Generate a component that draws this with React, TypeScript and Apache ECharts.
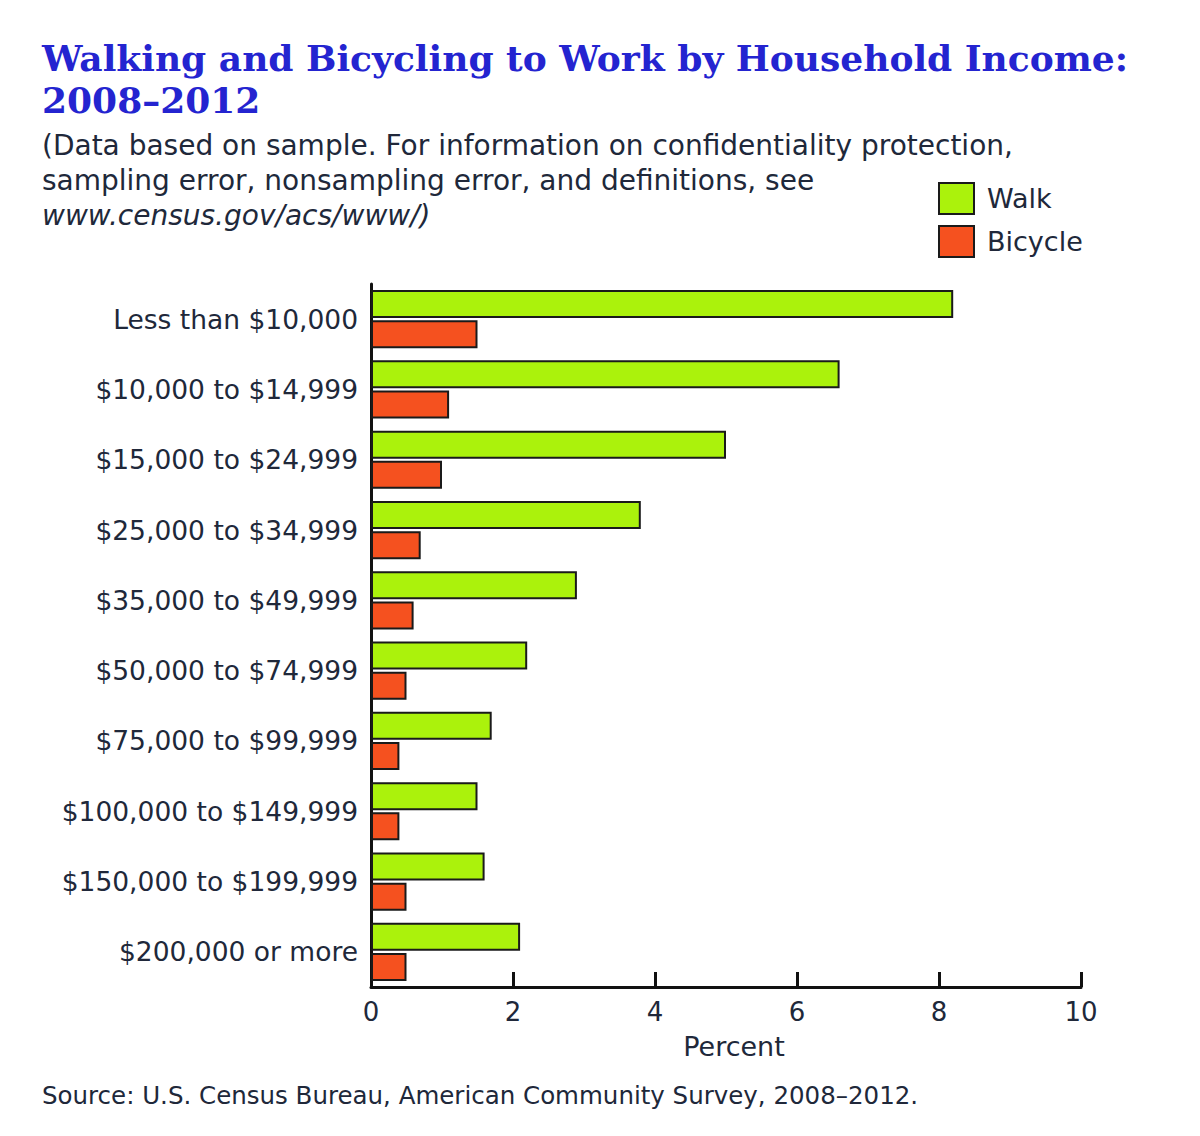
import React, { useEffect, useRef } from "react";
import * as echarts from "echarts";

const categories = [
  "Less than $10,000",
  "$10,000 to $14,999",
  "$15,000 to $24,999",
  "$25,000 to $34,999",
  "$35,000 to $49,999",
  "$50,000 to $74,999",
  "$75,000 to $99,999",
  "$100,000 to $149,999",
  "$150,000 to $199,999",
  "$200,000 or more",
];
const walkValues = [8.2, 6.6, 5.0, 3.8, 2.9, 2.2, 1.7, 1.5, 1.6, 2.1];
const bicycleValues = [1.5, 1.1, 1.0, 0.7, 0.6, 0.5, 0.4, 0.4, 0.5, 0.5];
const xTicks = [0, 2, 4, 6, 8, 10];

const titleLines = ["Walking and Bicycling to Work by Household Income:", "2008\u20132012"];
const noteLines = [
  "(Data based on sample. For information on confidentiality protection,",
  "sampling error, nonsampling error, and definitions, see",
];
const noteUrl = "www.census.gov/acs/www/)";
const sourceText = "Source: U.S. Census Bureau, American Community Survey, 2008\u20132012.";

const SANS = "DejaVu Sans";
const TEXT = "#20283a";
const WALK = "#abf20c";
const BIKE = "#f5511f";

export default function App() {
  const ref = useRef<HTMLDivElement>(null);
  useEffect(() => {
    document.body.style.margin = "0";
    const chart = echarts.init(ref.current!, null, { renderer: "svg" });
    chart.setOption({
      animation: false,
      backgroundColor: "#ffffff",
      graphic: [
        {
          type: "text",
          left: 42,
          top: 37,
          style: {
            text: titleLines.join("\n"),
            font: "bold 36px 'DejaVu Serif'",
            lineHeight: 42,
            fill: "#2424d0",
          },
        },
        {
          type: "text",
          left: 42,
          top: 128,
          style: {
            text: noteLines.join("\n"),
            font: `28px '${SANS}'`,
            lineHeight: 35,
            fill: TEXT,
          },
        },
        {
          type: "text",
          left: 42,
          top: 201,
          style: {
            text: noteUrl,
            font: `italic 28px '${SANS}'`,
            fill: TEXT,
          },
        },
        {
          type: "text",
          left: 42,
          top: 1083,
          style: {
            text: sourceText,
            font: `24.5px '${SANS}'`,
            fill: TEXT,
          },
        },
      ],
      legend: {
        orient: "vertical",
        left: 938,
        top: 182,
        padding: 0,
        itemWidth: 35,
        itemHeight: 31,
        itemGap: 10,
        icon: "rect",
        textStyle: { fontFamily: SANS, fontSize: 27, color: TEXT, padding: [0, 0, 0, 8] },
        itemStyle: { borderColor: "#1a1a1a", borderWidth: 2 },
        data: ["Walk", "Bicycle"],
      },
      grid: { left: 371, right: 119, top: 284, height: 703, containLabel: false },
      xAxis: {
        type: "value",
        min: 0,
        max: 10,
        interval: 2,
        name: "Percent",
        nameLocation: "middle",
        nameGap: 46,
        nameTextStyle: { fontFamily: SANS, fontSize: 27, color: TEXT, padding: [0, 0, 0, 16] },
        axisLine: { show: true, lineStyle: { color: "#111", width: 3 } },
        axisTick: { show: true, inside: true, length: 15, lineStyle: { color: "#111", width: 3 } },
        axisLabel: {
          fontFamily: SANS,
          fontSize: 26,
          color: TEXT,
          margin: 12,
          formatter: (v: number) => (xTicks.includes(v) ? String(v) : ""),
        },
        splitLine: { show: false },
      },
      yAxis: {
        type: "category",
        inverse: true,
        data: categories,
        axisLine: { show: true, lineStyle: { color: "#111", width: 3 } },
        axisTick: { show: false },
        axisLabel: { fontFamily: SANS, fontSize: 26.5, color: TEXT, margin: 13 },
      },
      series: [
        {
          name: "Walk",
          type: "bar",
          data: walkValues,
          barWidth: 28,
          barGap: "8%",
          itemStyle: { color: WALK, borderColor: "#1a1a1a", borderWidth: 2 },
        },
        {
          name: "Bicycle",
          type: "bar",
          data: bicycleValues,
          barWidth: 28,
          barGap: "8%",
          itemStyle: { color: BIKE, borderColor: "#1a1a1a", borderWidth: 2 },
        },
      ],
    });
    return () => chart.dispose();
  }, []);
  return <div ref={ref} style={{ width: 1200, height: 1136 }} />;
}
